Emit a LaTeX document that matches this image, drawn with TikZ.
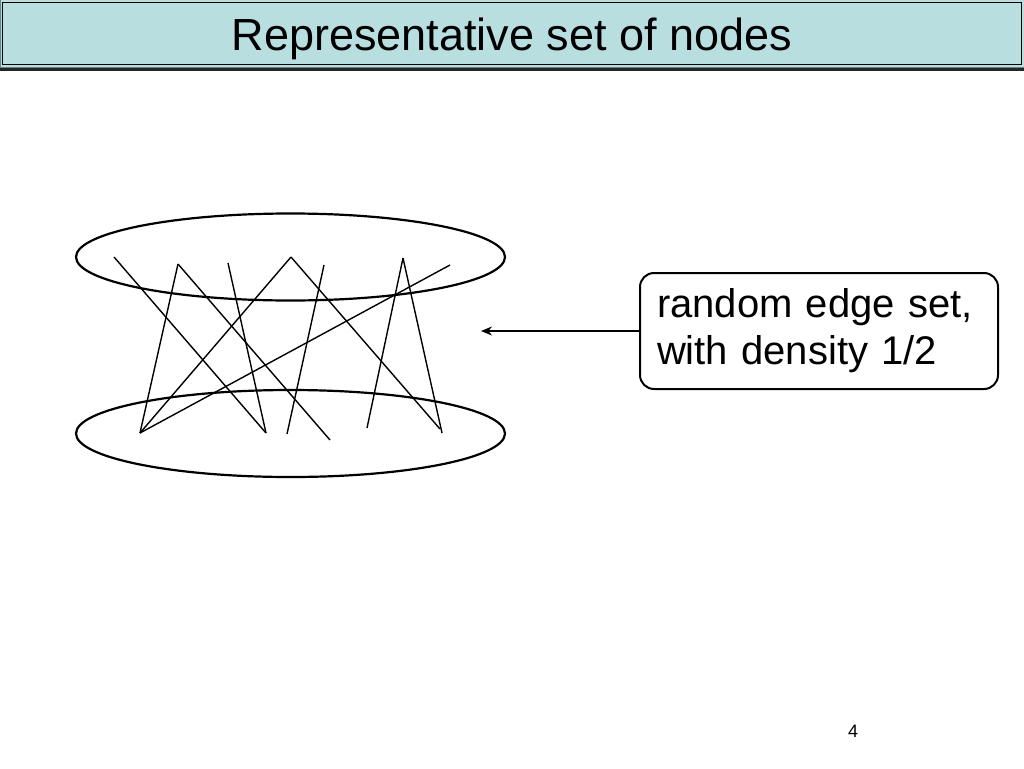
\documentclass[tikz,border=0pt]{standalone}
\usepackage{fontspec}
\setmainfont{Liberation Sans}
\usepackage{xcolor}
\usetikzlibrary{shapes.geometric, arrows.meta}
\definecolor{barfill}{HTML}{B8DEE0}
\definecolor{baredge}{HTML}{5E8788}
\tikzstyle{nodeset} = [ellipse, draw=black, line width=2.2pt, minimum width=429pt, minimum height=87pt]
\tikzstyle{edge} = [line width=1.4pt]
\tikzstyle{note} = [rectangle, rounded corners=14pt, draw=black, line width=2pt, text width=324pt, minimum width=358pt, minimum height=116pt, inner xsep=17pt, align=left, font=\fontsize{40}{47}\selectfont]
\tikzstyle{arrow} = [line width=2.6pt, -{Stealth[length=11pt, width=9pt]}]

\begin{document}
\begin{tikzpicture}[x=1pt, y=-1pt]
   \useasboundingbox (0,0) rectangle (1024,768);
   % title bar
   \fill [barfill, draw=baredge, line width=1pt] (0,0) rectangle (1024,67);
   \draw [black, line width=1.4pt] (2.5,2.5) rectangle (1021.5,64.5);
   \draw [black!85, line width=3.5pt] (0,69.5) -- (1024,69.5);
   \node (title) at (512,38.5) {\fontsize{45}{50}\selectfont Representative set of nodes};
   % the two sets
   \node (up) [nodeset] at (290.5,257) {};
   \node (down) [nodeset] at (290.5,433.5) {};
   % end points of the edges
   \coordinate (a) at (114,257);
   \coordinate (b) at (178,264);
   \coordinate (c) at (228,263);
   \coordinate (d) at (291,257);
   \coordinate (e) at (324,265);
   \coordinate (f) at (403,258);
   \coordinate (g) at (450,265);
   \coordinate (p) at (140,433);
   \coordinate (q) at (266,433);
   \coordinate (r) at (287,434);
   \coordinate (s) at (330,440);
   \coordinate (t) at (367,428);
   \coordinate (u) at (440,429);
   \coordinate (v) at (442,433);
   \draw [edge] (a) -- (q);
   \draw [edge] (b) -- (p);
   \draw [edge] (b) -- (s);
   \draw [edge] (c) -- (q);
   \draw [edge] (d) -- (p);
   \draw [edge] (d) -- (u);
   \draw [edge] (e) -- (r);
   \draw [edge] (g) -- (p);
   \draw [edge] (f) -- (t);
   \draw [edge] (f) -- (v);
   % remark and its arrow
   \node (rem) [note] at (819,331) {random edge set,\\with density 1/2};
   \coordinate (tip) at (481,331);
   \draw [arrow] (rem.west) -- (tip);
   \node (page) at (853,731) {\fontsize{18}{20}\selectfont 4};
\end{tikzpicture}
\end{document}
